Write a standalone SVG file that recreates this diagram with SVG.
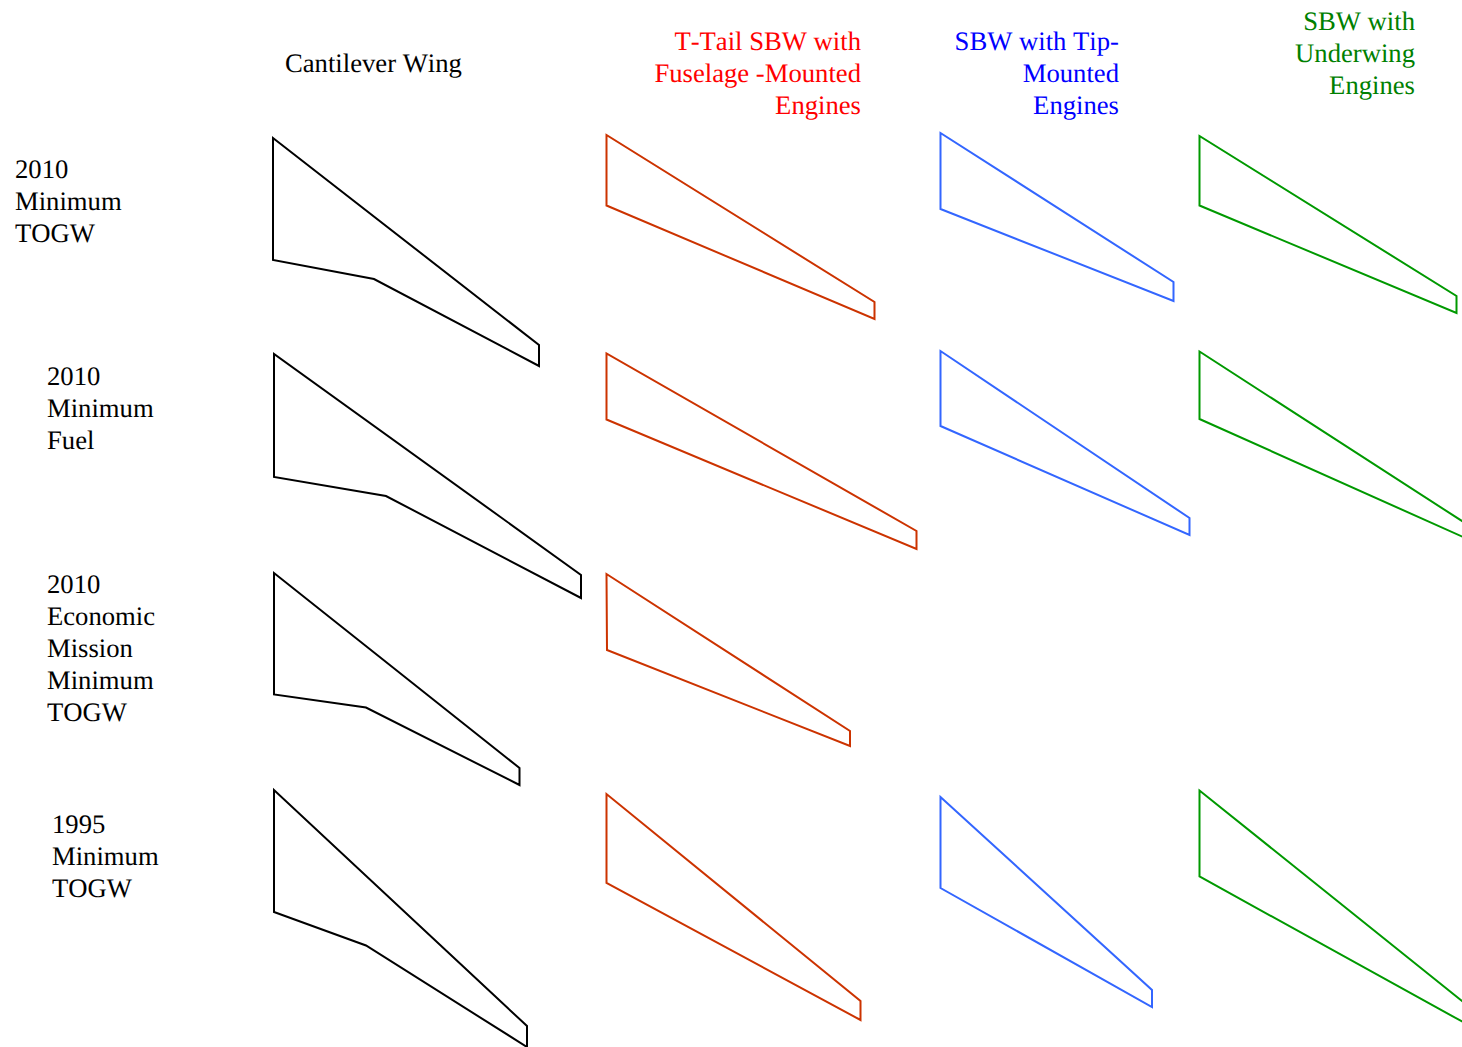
<svg xmlns="http://www.w3.org/2000/svg" width="1462" height="1047" viewBox="0 0 1462 1047">
<style>
text{font-family:"Liberation Serif","Times New Roman",serif;font-size:26.67px;text-rendering:geometricPrecision;font-kerning:none}
.k{fill:#000}.r{fill:#f00;text-anchor:end}.b{fill:#00f;text-anchor:end}.g{fill:#008000;text-anchor:end}
polygon{fill:none;stroke-width:2;stroke-linejoin:miter}
.wk{stroke:#000}.wr{stroke:#cc3300}.wb{stroke:#3366ff}.wg{stroke:#009900}
</style>
<rect width="1462" height="1047" fill="#fff"/>
<g id="labels">
<text class="k" x="285" y="72">Cantilever Wing</text>
<text class="r" x="861" y="50">T-Tail SBW with</text>
<text class="r" x="861" y="82">Fuselage -Mounted</text>
<text class="r" x="861" y="114">Engines</text>
<text class="b" x="1119" y="50">SBW with Tip-</text>
<text class="b" x="1119" y="82">Mounted</text>
<text class="b" x="1119" y="114">Engines</text>
<text class="g" x="1415" y="30">SBW with</text>
<text class="g" x="1415" y="62">Underwing</text>
<text class="g" x="1415" y="94">Engines</text>
<text class="k" x="15" y="178">2010</text>
<text class="k" x="15" y="210">Minimum</text>
<text class="k" x="15" y="242">TOGW</text>
<text class="k" x="47" y="385">2010</text>
<text class="k" x="47" y="417">Minimum</text>
<text class="k" x="47" y="449">Fuel</text>
<text class="k" x="47" y="593">2010</text>
<text class="k" x="47" y="625">Economic</text>
<text class="k" x="47" y="657">Mission</text>
<text class="k" x="47" y="689">Minimum</text>
<text class="k" x="47" y="721">TOGW</text>
<text class="k" x="52" y="833">1995</text>
<text class="k" x="52" y="865">Minimum</text>
<text class="k" x="52" y="897">TOGW</text>
</g>
<g id="wing-cantilever-togw"><polygon class="wk" points="273,138 273,260 374,279 539,366 539,345"/></g>
<g id="wing-cantilever-fuel"><polygon class="wk" points="274,354 274,477 386,496 581,598 581,575"/></g>
<g id="wing-cantilever-econ"><polygon class="wk" points="274,573 274,694.500 366,707.500 519.500,785 519.500,768"/></g>
<g id="wing-cantilever-1995"><polygon class="wk" points="274,790 274,912 366,945.500 527,1047 527,1026"/></g>
<g id="wing-ttail-togw"><polygon class="wr" points="606.500,135 606.500,205.500 874.500,319 874.500,302"/></g>
<g id="wing-ttail-fuel"><polygon class="wr" points="606.500,353.500 606.500,419.500 916.500,549 916.500,531"/></g>
<g id="wing-ttail-econ"><polygon class="wr" points="606.500,574 607,650 850,746 850,731"/></g>
<g id="wing-ttail-1995"><polygon class="wr" points="606.500,794 606.500,883 860.500,1020 860.500,1001"/></g>
<g id="wing-tip-togw"><polygon class="wb" points="940.500,133 940.500,209 1173.500,301 1173.500,282"/></g>
<g id="wing-tip-fuel"><polygon class="wb" points="940.500,351 940.500,426 1189.500,535 1189.500,518"/></g>
<g id="wing-tip-1995"><polygon class="wb" points="940.500,797 940.500,888 1152,1007 1152,990"/></g>
<g id="wing-under-togw"><polygon class="wg" points="1199.500,136 1199.500,205.500 1456.500,313 1456.500,296"/></g>
<g id="wing-under-fuel"><polygon class="wg" points="1199.500,351.500 1199.500,419 1472,541 1472,527.500"/></g>
<g id="wing-under-1995"><polygon class="wg" points="1199.500,790.500 1199.500,876.500 1472,1027 1472,1009"/></g>
<g id="connectors"/>
</svg>
